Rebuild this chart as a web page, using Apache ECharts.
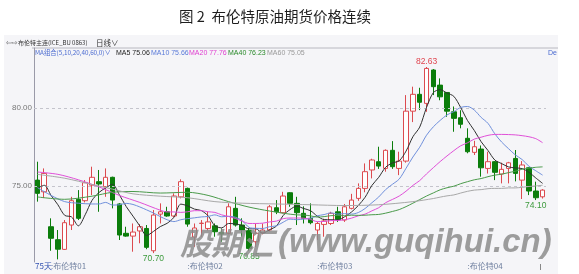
<!DOCTYPE html>
<html><head><meta charset="utf-8">
<script src="https://cdn.jsdelivr.net/npm/echarts@6/dist/echarts.min.js"></script>
<style>html,body{margin:0;padding:0;background:#fff}#c{width:579px;height:274px}</style>
</head><body><div id="c"></div>
<script>
// ---- data ----
const openP  = [75.38,74.63,72.39,71.56,70.94,72.5,74.15,74.06,75.06,75.28,74.96,75.56,73.85,71.97,71.79,72.12,72.28,70.85,73.2,73.35,73.08,74.31,74.85,71.73,72.6,72.28,72.45,72.03,71.97,73.57,72.5,72.14,71.43,72.0,72.18,73.61,73.29,74.57,73.89,73.25,72.93,72.18,72.54,72.6,73.35,72.82,73.57,74.21,74.85,76.03,76.56,76.13,77.29,76.13,76.6,79.8,80.88,80.3,82.44,81.47,81.0,79.76,79.38,78.06,77.16,77.37,76.13,76.56,75.77,76.13,76.77,75.38,76.17,74.68,74.31];
const closeP = [74.53,75.81,71.65,70.95,72.65,74.06,72.93,75.21,75.56,75.13,75.56,74.1,71.86,71.79,72.05,72.39,71.07,73.14,73.35,73.08,74.36,75.28,72.56,72.31,72.62,72.7,72.07,71.92,73.67,72.5,72.18,71.0,71.97,72.18,73.67,73.35,74.36,73.89,73.29,72.93,72.65,72.6,72.76,73.25,72.87,73.67,74.1,74.85,75.92,76.67,76.28,77.29,76.24,76.6,79.8,80.88,80.37,82.54,81.37,80.72,79.8,79.34,78.96,77.2,77.52,76.17,76.56,75.88,76.07,76.49,75.81,76.35,74.68,74.25,74.74];
const lowP   = [74.0,74.23,70.85,70.3,70.9,72.18,72.82,73.95,74.42,73.35,74.31,73.57,71.54,71.75,70.79,71.33,70.95,70.70,72.6,73.03,73.0,74.21,72.39,71.1,71.75,72.15,71.75,71.43,71.9,72.4,71.75,70.85,71.1,71.9,72.1,73.2,73.25,73.67,72.5,72.6,72.55,71.54,71.75,72.5,72.7,72.7,73.5,74.05,74.6,75.49,76.1,75.92,76.1,75.7,76.5,79.1,79.87,79.76,80.83,80.5,79.44,78.48,78.7,77.1,76.99,75.6,75.8,75.38,75.17,75.17,75.3,74.17,74.42,74.10,74.2];
const highP  = [76.56,76.13,72.93,72.18,72.82,74.31,74.74,75.38,76.24,76.03,76.13,75.6,73.9,72.39,72.6,72.56,72.5,73.46,73.89,73.67,74.53,75.43,74.9,72.6,72.82,73.35,72.6,72.28,73.89,74.31,72.93,72.3,72.6,72.6,73.78,74.1,74.63,74.6,74.31,73.7,73.89,72.7,72.9,73.35,73.67,73.85,74.5,75.17,76.45,76.75,77.52,77.35,77.88,77.2,80.83,81.37,81.3,82.63,82.5,81.9,81.0,80.1,79.86,78.7,77.9,77.6,77.2,76.6,76.5,76.55,77.31,76.6,76.2,75.28,74.8];
// moving averages before the visible window is full (null = not read)
const ma5Head  = [74.85,75.05,74.4,73.8];
const ma10Head = [74.9,null,74.4,null,74.0,null,73.9,null,73.85];
const ma20Head = [75.9,null,null,75.75,null,null,75.4,null,null,74.95,null,null,74.4,null,null,73.95,null,null,73.45];
const ma40Head = [74.3,null,null,null,74.15,null,null,null,74.35,null,null,74.6,null,null,74.65,null,null,null,74.55,null,null,null,74.6,null,null,74.4,null,null,74.0,null,null,73.65,null,null,73.4,null,null,null,73.15];
const ma60Head = [75.75,null,null,null,75.5,null,null,null,75.1,null,null,74.8,null,null,74.5,null,null,null,74.35,null,null,null,74.25,null,null,null,74.0,null,null,null,73.9,null,null,null,null,73.85,null,null,null,null,73.8,null,null,null,null,73.75,null,null,null,null,73.8,null,null,null,null,74.0,null,null,74.2];
const tickIndex = [2,22,41,63];
const tickText  = ['布伦特01','布伦特02','布伦特03','布伦特04'];
const peakMarks = [[57,82.63,'top','#e0454f'],[17,70.70,'bottom','#3c9a3c'],[31,70.85,'bottom','#3c9a3c'],[73,74.10,'bottom','#3c9a3c']];
const legendVals = {MA5:'75.06',MA10:'75.66',MA20:'77.76',MA40:'76.23',MA60:'75.05'};

const days = closeP.map((_, i) => String(i));
function ma(n, head){
  return closeP.map((_, i) => {
    if (i < n - 1) return head[i] === undefined ? null : head[i];
    let s = 0; for (let k = i - n + 1; k <= i; k++) s += closeP[k];
    return +(s / n).toFixed(2);
  });
}
const candle = closeP.map((c, i) => [openP[i], c, lowP[i], highP[i]]);

const chart = echarts.init(document.getElementById('c'), null, {renderer:'canvas'});
const F = 'Liberation Sans, Arial, sans-serif';
const lineS = (name, data, color) => ({type:'line', name, data, symbol:'none', smooth:0.3, connectNulls:true,
  lineStyle:{width:1, color}, z:5, silent:true});
chart.setOption({
  animation:false,
  backgroundColor:'#ffffff',
  title:{text:'图 2  布伦特原油期货价格连续', left:270, top:4, textAlign:'center',
    textStyle:{fontFamily:'Noto Sans CJK SC', fontSize:14.5, fontWeight:'normal', color:'#1e1e1e'}},
  grid:{left:34, right:33, top:48, height:214},
  xAxis:{type:'category', data:days, boundaryGap:true,
    axisLine:{show:false}, axisTick:{show:false}, splitLine:{show:false},
    axisLabel:{interval:(i)=>tickIndex.indexOf(i)>=0, margin:0, align:'left', fontSize:8, color:'#7080a0', fontFamily:'Noto Sans CJK SC',
      formatter:(v,i)=>':'+tickText[tickIndex.indexOf(+v)]}},
  yAxis:{type:'value', min:70.13, max:83.85, axisLine:{show:true, lineStyle:{color:'#9a9aa8'}},
    axisTick:{show:false}, axisLabel:{show:false}, splitLine:{show:false}},
  series:[
    {type:'candlestick', data:candle, barWidth:5, z:3,
      itemStyle:{color:'#ffffff', color0:'#0b7d0b', borderColor:'#dc4a4f', borderColor0:'#0b7d0b', borderWidth:1},
      markLine:{silent:true, symbol:'none', animation:false,
        lineStyle:{type:[3,3], color:'#c4c4cc', width:1},
        label:{position:'start', distance:2, fontSize:8, color:'#777', fontFamily:F, formatter:(p)=>p.value.toFixed(2)},
        data:[{yAxis:80},{yAxis:75}]},
      markPoint:{symbol:'circle', symbolSize:0, animation:false,
        data:peakMarks.map(m=>({coord:[m[0], m[1]], value:m[1].toFixed(2),
          label:{show:true, position:m[2], distance:1, color:m[3], fontSize:8.5, fontFamily:F}}))}},
    lineS('MA5', ma(5, ma5Head), '#303030'),
    lineS('MA10', ma(10, ma10Head), '#7090dc'),
    lineS('MA20', ma(20, ma20Head), '#e050d8'),
    lineS('MA40', ma(40, ma40Head), '#4a9a4a'),
    lineS('MA60', ma(60, ma60Head), '#a8a8a8')
  ],
  graphic:[
    {type:'rect', z:-1, shape:{x:4, y:35, width:554, height:239}, style:{fill:'#f5f5f8'}},
    {type:'line', shape:{x1:32, y1:48, x2:558, y2:48}, style:{stroke:'#b8b8c0', lineWidth:1}},
    {type:'text', x:6, y:43, style:{text:'⇦⇨', font:'7px DejaVu Sans', fill:'#555', verticalAlign:'middle'}},
    {type:'text', x:18, y:43, style:{text:'布伦特主连(ICE_BU 0863)', font:'6px Noto Sans CJK SC', fill:'#333', verticalAlign:'middle'}},
    {type:'text', x:96, y:43, style:{text:'日线∨', font:'7.5px Noto Sans CJK SC', fill:'#333', verticalAlign:'middle'}},
    {type:'text', x:35, y:53, style:{text:'MA组合(5,10,20,40,60,0)∨', font:'6.3px Noto Sans CJK SC', fill:'#4a6ad0', verticalAlign:'middle'}},
    {type:'text', x:116, y:53, style:{text:'MA5 '+legendVals.MA5, font:'7px '+F, fill:'#222', verticalAlign:'middle'}},
    {type:'text', x:151, y:53, style:{text:'MA10 '+legendVals.MA10, font:'7px '+F, fill:'#5a7ad8', verticalAlign:'middle'}},
    {type:'text', x:189, y:53, style:{text:'MA20 '+legendVals.MA20, font:'7px '+F, fill:'#e040d0', verticalAlign:'middle'}},
    {type:'text', x:228, y:53, style:{text:'MA40 '+legendVals.MA40, font:'7px '+F, fill:'#2a8a2a', verticalAlign:'middle'}},
    {type:'text', x:267, y:53, style:{text:'MA60 '+legendVals.MA60, font:'7px '+F, fill:'#999', verticalAlign:'middle'}},
    {type:'text', x:548, y:53, style:{text:'De', font:'7px '+F, fill:'#4a6ad0', verticalAlign:'middle'}},
    {type:'text', x:35, y:266, style:{text:'75天', font:'8px Noto Sans CJK SC', fill:'#3050b0', verticalAlign:'middle'}},
    {type:'line', shape:{x1:540.5, y1:264, x2:540.5, y2:270}, style:{stroke:'#888', lineWidth:1}},
    {type:'text', z:100, x:180, y:243, style:{text:'股期汇', font:'italic bold 31px Noto Sans CJK SC', fill:'rgba(140,140,140,0.85)', verticalAlign:'middle'}},
    {type:'text', z:100, x:278, y:243, style:{text:'(www.guqihui.cn)', font:'italic bold 33px Liberation Sans', fill:'rgba(140,140,140,0.85)', verticalAlign:'middle'}}
  ]
});
</script></body></html>
